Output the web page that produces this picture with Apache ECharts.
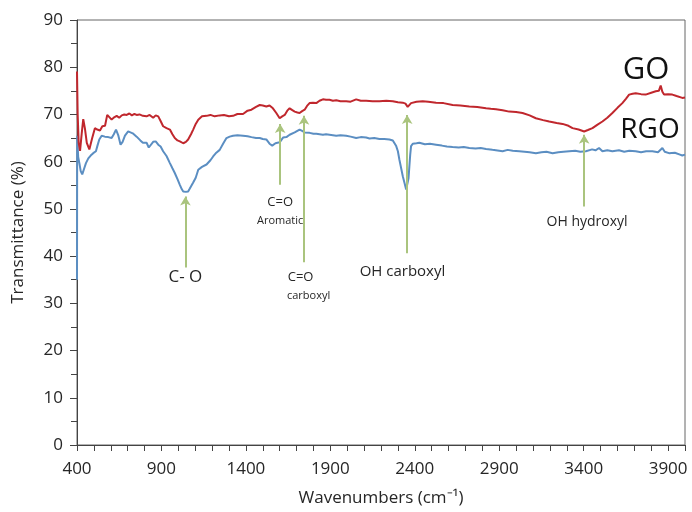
<!DOCTYPE html>
<html><head><meta charset="utf-8">
<script src="https://cdn.jsdelivr.net/npm/echarts@6/dist/echarts.min.js"></script>
<style>html,body{margin:0;padding:0;background:#fff}#c{width:692px;height:512px}</style>
</head><body><div id="c"></div>
<script>
const xTickLabels = [400, 900, 1400, 1900, 2400, 2900, 3400, 3900];
const yTickLabels = [0, 10, 20, 30, 40, 50, 60, 70, 80, 90];

const goData = [
[400,79.1],[404,70],[410,64],[418,62.3],[428,66],[437,69.0],[447,67],[458,64],[473,62.6],[490,65],
[506,67.1],[520,66.8],[536,66.6],[550,67.5],[566,67.6],[579,69.9],[590,69.5],[605,68.9],[620,69.4],[635,69.7],
[650,69.3],[665,69.8],[680,70.0],[694,69.9],[710,70.2],[725,69.8],[740,70.1],[753,69.9],[770,70.0],[790,69.7],
[812,69.6],[830,69.9],[851,69.3],[866,69.8],[881,69.6],[895,68.6],[910,67.5],[930,67.1],[950,66.8],[965,65.8],
[979,65.0],[995,64.5],[1009,64.3],[1020,64.0],[1029,63.9],[1045,64.2],[1058,64.7],[1075,65.8],[1088,66.8],[1103,68.0],
[1118,68.9],[1140,69.6],[1167,69.7],[1190,69.9],[1215,69.6],[1245,69.8],[1270,69.9],[1300,69.6],[1324,69.7],[1350,70.1],
[1383,70.1],[1410,70.8],[1433,71.0],[1460,71.6],[1482,72.0],[1500,71.9],[1521,71.7],[1540,71.9],[1560,71.3],[1580,70.3],
[1600,69.2],[1615,69.6],[1630,69.9],[1645,70.8],[1659,71.3],[1675,70.9],[1689,70.6],[1705,70.4],[1718,70.3],[1733,70.7],
[1748,71.0],[1762,71.8],[1777,72.4],[1797,72.5],[1817,72.4],[1836,72.9],[1856,73.2],[1875,73.1],[1895,73.1],[1915,72.9],
[1935,73.0],[1960,72.8],[1994,72.8],[2020,72.7],[2053,73.2],[2080,72.9],[2112,72.9],[2150,72.8],[2191,72.8],[2231,72.9],
[2270,72.8],[2300,72.6],[2329,72.5],[2345,72.3],[2358,71.6],[2368,72.0],[2378,72.4],[2410,72.7],[2447,72.8],[2480,72.7],
[2526,72.5],[2570,72.4],[2624,72.0],[2670,71.9],[2723,71.7],[2770,71.6],[2822,71.3],[2850,71.2],[2881,71.1],[2920,70.9],
[2959,70.6],[3000,70.5],[3038,70.3],[3080,69.8],[3117,69.2],[3160,68.8],[3196,68.5],[3240,68.2],[3275,68.0],[3310,67.6],
[3334,67.1],[3370,66.8],[3403,66.4],[3425,66.7],[3452,67.1],[3480,67.8],[3511,68.5],[3540,69.3],[3570,70.3],[3600,71.4],
[3629,72.4],[3650,73.3],[3669,74.2],[3690,74.4],[3708,74.5],[3740,74.3],[3767,74.2],[3800,74.6],[3827,74.9],[3845,75.0],
[3856,76.1],[3866,74.8],[3876,74.2],[3900,74.3],[3925,74.2],[3950,73.9],[3984,73.5],[4000,73.6]
];

const rgoData = [
[400,35],[401,65.5],[407,61],[414,59.7],[422,58],[431,57.3],[442,58.5],[453,59.7],[467,60.7],[481,61.3],
[496,61.8],[512,62.2],[522,63.5],[532,64.7],[546,65.5],[565,65.3],[585,65.2],[605,65.0],[618,65.8],[631,66.8],
[645,65.5],[658,63.6],[670,64.2],[684,65.5],[703,66.4],[713,66.5],[730,66.0],[753,65.3],[775,64.5],[790,64.0],
[812,64.0],[825,63.0],[835,62.9],[851,64.2],[866,64.3],[881,63.6],[895,63.2],[910,62.2],[930,61.2],[950,59.7],
[965,58.6],[979,57.6],[995,56.3],[1009,55.1],[1020,54.2],[1029,53.7],[1045,53.6],[1058,53.7],[1068,54.3],[1088,55.6],
[1103,56.6],[1118,58.3],[1140,58.9],[1167,59.4],[1190,60.3],[1206,61.1],[1225,61.9],[1245,62.5],[1265,63.8],[1285,65.0],
[1304,65.3],[1324,65.5],[1350,65.6],[1383,65.5],[1410,65.4],[1433,65.2],[1460,65.0],[1482,65.0],[1500,64.8],[1521,64.7],
[1540,63.8],[1556,63.4],[1575,63.9],[1600,64.1],[1620,65.1],[1640,65.2],[1659,65.7],[1689,66.2],[1718,66.8],[1733,66.5],
[1748,66.2],[1777,66.1],[1800,65.9],[1817,65.9],[1856,65.7],[1875,65.8],[1895,65.7],[1935,65.5],[1960,65.6],[1994,65.5],
[2020,65.3],[2053,65.0],[2080,65.2],[2112,65.1],[2132,64.9],[2160,65.0],[2191,64.8],[2220,64.8],[2250,64.7],[2270,64.5],
[2290,63.3],[2300,62.2],[2309,60.4],[2320,58.5],[2329,56.9],[2340,55.4],[2349,54.1],[2358,54.3],[2363,56.5],[2368,59.0],
[2373,61.5],[2378,63.3],[2388,63.8],[2410,63.9],[2427,64.0],[2460,63.7],[2490,63.8],[2526,63.6],[2560,63.4],[2590,63.2],
[2624,63.1],[2660,63.0],[2690,63.1],[2723,62.9],[2760,62.8],[2790,62.9],[2822,62.7],[2860,62.5],[2880,62.4],[2920,62.2],
[2950,62.5],[2980,62.3],[3019,62.2],[3050,62.1],[3080,62.0],[3117,61.8],[3150,62.0],[3180,62.1],[3216,61.8],[3250,62.0],
[3280,62.1],[3314,62.2],[3350,62.3],[3380,62.1],[3413,62.2],[3450,62.6],[3470,62.4],[3491,62.9],[3500,62.6],[3511,62.2],
[3540,62.4],[3570,62.2],[3609,62.4],[3640,62.1],[3670,62.3],[3708,62.2],[3740,62.0],[3770,62.2],[3807,62.2],[3840,62.0],
[3866,62.9],[3880,62.1],[3905,61.8],[3940,61.9],[3970,61.5],[3984,61.3],[4000,61.5]
];

// arrows: wavenumber, tip value, base value
const arrows = [
  [1042, 52.6, 37.6],
  [1603, 68.0, 55.1],
  [1744, 69.7, 38.7],
  [2355, 69.9, 40.6],
  [3403, 65.7, 50.5]
];
// annotation texts: text, wavenumber, value, size
const notes = [
  ['C- O', 1042, 35.5, 17],
  ['C=O', 1603, 51.3, 13],
  ['Aromatic', 1603, 47.5, 11],
  ['C=O', 1724, 35.5, 13],
  ['carboxyl', 1771, 31.5, 11],
  ['OH carboxyl', 2327, 36.6, 15],
  ['OH hydroxyl', 3420, 47.3, 14],
  ['GO', 3769, 79.4, 31],
  ['RGO', 3793, 66.8, 28]
];

const minorX = [];
for (let v = 400; v <= 4000; v += 100) minorX.push(v);

const FONT = 'Open Sans';
const TXT = '#262626';
const chart = echarts.init(document.getElementById('c'), null, {renderer: 'canvas'});
chart.setOption({
  animation: false,
  backgroundColor: '#fff',
  textStyle: {fontFamily: FONT},
  grid: {left: 77, right: 7, top: 20, bottom: 66, show: true, borderColor: '#666', borderWidth: 1},
  xAxis: {
    type: 'value', min: 400, max: 4000,
    name: 'Wavenumbers (cm⁻¹)', nameLocation: 'middle', nameGap: 45,
    nameTextStyle: {fontSize: 17, color: TXT, fontFamily: FONT},
    axisLine: {show: true, lineStyle: {color: '#444', width: 1}},
    axisTick: {show: true, customValues: minorX, length: 6, lineStyle: {color: '#444'}},
    axisLabel: {customValues: xTickLabels, fontSize: 17, color: TXT, margin: 16, fontFamily: FONT,
      formatter: v => String(v)},
    splitLine: {show: false}
  },
  yAxis: {
    type: 'value', min: 0, max: 90, interval: 10,
    name: 'Transmittance (%)', nameLocation: 'middle', nameGap: 50,
    nameTextStyle: {fontSize: 17, color: TXT, fontFamily: FONT},
    axisLine: {show: true, lineStyle: {color: '#444', width: 1}},
    axisTick: {show: true, length: 7, lineStyle: {color: '#444'}},
    minorTick: {show: true, splitNumber: 2, length: 6, lineStyle: {color: '#444'}},
    axisLabel: {fontSize: 17, color: TXT, margin: 14, fontFamily: FONT,
      formatter: v => yTickLabels.includes(v) ? String(v) : ''},
    splitLine: {show: false}
  },
  series: [
    {name: 'GO', type: 'line', data: goData, showSymbol: false, symbol: 'none',
     lineStyle: {color: '#c0272d', width: 2}, itemStyle: {color: '#c0272d'}, z: 3},
    {name: 'RGO', type: 'line', data: rgoData, showSymbol: false, symbol: 'none',
     lineStyle: {color: '#5b8ec2', width: 2}, itemStyle: {color: '#5b8ec2'}, z: 2,
     markLine: {
       silent: true, symbol: ['none', 'arrow'], symbolSize: [8, 9], animation: false,
       lineStyle: {color: '#aac47e', width: 2, type: 'solid'}, label: {show: false},
       data: arrows.map(a => [{coord: [a[0], a[2]]}, {coord: [a[0], a[1]]}])
     }}
  ]
});

const g = notes.map(n => {
  const p = chart.convertToPixel({gridIndex: 0}, [n[1], n[2]]);
  return {type: 'text', x: p[0], y: p[1], z: 10,
    style: {text: n[0], fontSize: n[3], fontFamily: FONT, fill: n[3] > 20 ? '#111' : TXT,
      align: 'center', verticalAlign: 'middle'}};
});
chart.setOption({graphic: g});
</script>
</body></html>
